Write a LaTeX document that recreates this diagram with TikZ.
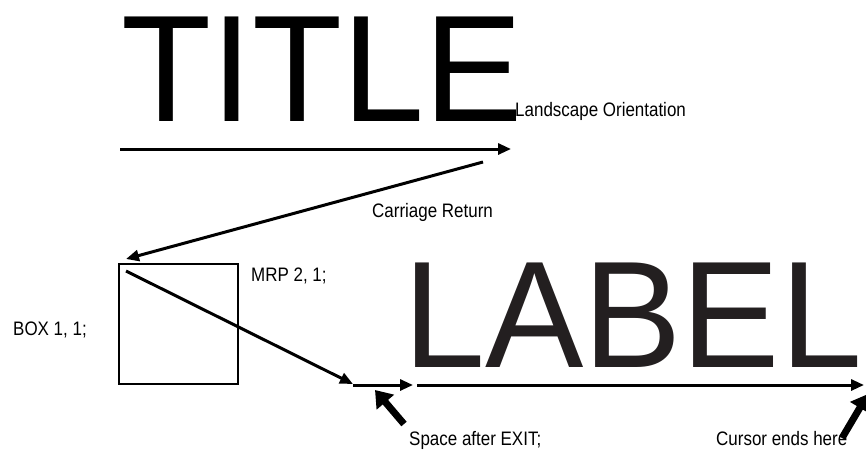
\documentclass[tikz,border=0pt]{standalone}
\usepackage{fontspec}
\setmainfont{Liberation Sans}
\newfontfamily\narrowfont[FakeStretch=0.87]{Liberation Sans}
\newfontfamily\bigfont[FakeStretch=0.97]{Liberation Sans}
\usepackage{xcolor}
\usetikzlibrary{arrows.meta,positioning}
\tikzset{%
  arrow/.style={line width=3pt,-{Triangle[length=13pt,width=11pt]}},
  pointer/.style={line width=7pt,-{Triangle[length=16pt,width=22pt]}},
  note/.style={inner sep=0pt,anchor=base west,font=\narrowfont\fontsize{19.5}{20}\selectfont},
  big/.style={inner sep=0pt,anchor=base west,font=\bigfont\fontsize{152}{152}\selectfont},
}
\definecolor{labelgray}{HTML}{231F20}

\begin{document}
\begin{tikzpicture}[x=1pt,y=-1pt]
      \useasboundingbox (0,0) rectangle (866,450);

      \node[big] (title) at (121,121) {TITLE};
      \node[big,text=labelgray] (label_text) at (403,367) {LABEL};

      \node[draw,line width=2pt,minimum width=119pt,minimum height=120pt,inner sep=0pt] (box) at (178.5,324) {};

      \node[note] (landscape) at (515,116) {Landscape Orientation};
      \node[note] (carriage) at (372,217) {Carriage Return};
      \node[note] (mrp) at (251,281) {MRP 2, 1;};
      \node[note] (box_text) at (13,335) {BOX 1, 1;};
      \node[note] (space) at (409,445) {Space after EXIT;};
      \node[note] (cursor) at (716,445) {Cursor ends here};

      \coordinate (line_start) at (120,149);
      \coordinate (line_end) at (511,149);
      \coordinate (cr_start) at (483,162);
      \coordinate (cr_end) at (126,259);
      \coordinate (mrp_start) at (126,271);
      \coordinate (mrp_end) at (353,384);
      \coordinate (exit_start) at (353,385);
      \coordinate (exit_end) at (413,385);
      \coordinate (label_start) at (417,385);
      \coordinate (label_end) at (864,385);
      \coordinate (space_tail) at (404,424);
      \coordinate (space_tip) at (375,390);
      \coordinate (cursor_tail) at (842,438);
      \coordinate (cursor_tip) at (868,394);

      \draw[arrow] (line_start) -- (line_end);
      \draw[arrow] (cr_start) -- (cr_end);
      \draw[arrow] (mrp_start) -- (mrp_end);
      \draw[arrow] (exit_start) -- (exit_end);
      \draw[arrow] (label_start) -- (label_end);

      \draw[pointer] (space_tail) -- (space_tip);
      \draw[pointer] (cursor_tail) -- (cursor_tip);
    \end{tikzpicture}
\end{document}
